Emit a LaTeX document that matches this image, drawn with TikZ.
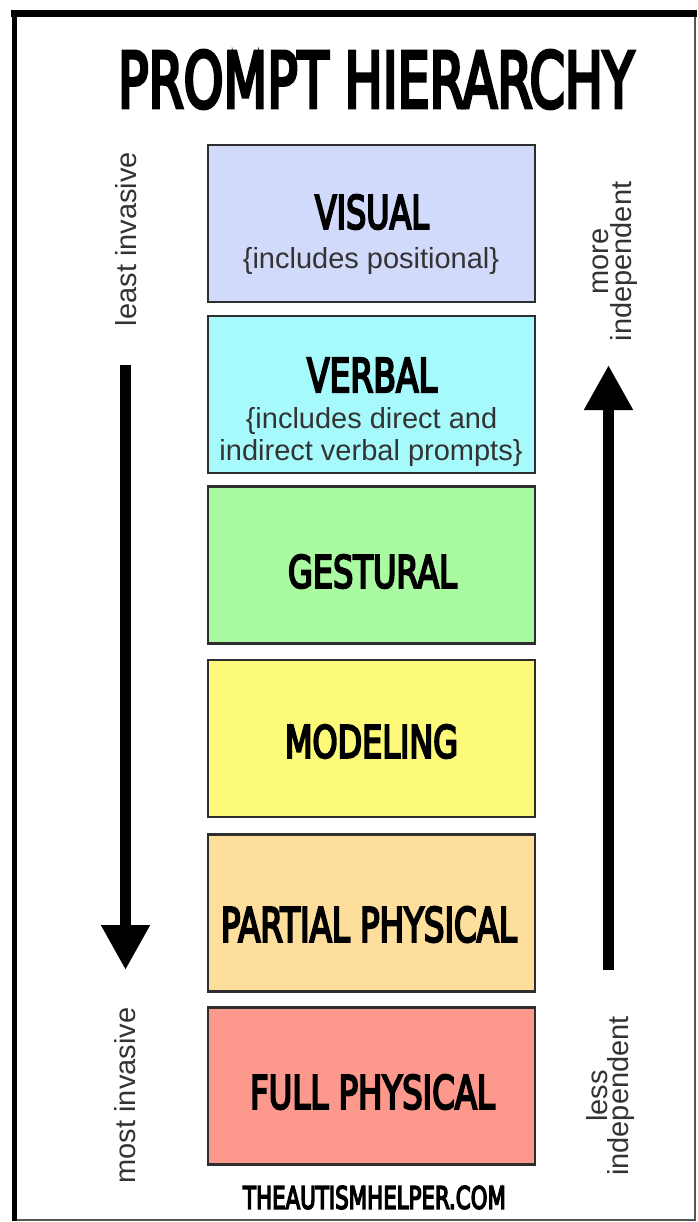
\documentclass[tikz,border=0pt]{standalone}
\usepackage{fontspec}
\setmainfont{Liberation Sans}
\newfontfamily\hfont[FakeBold=5]{DejaVuSansCondensed.ttf}
\usetikzlibrary{arrows.meta}
\definecolor{cVis}{HTML}{D2DAFB}
\definecolor{cVerb}{HTML}{A6FAFC}
\definecolor{cGest}{HTML}{AAFAA2}
\definecolor{cMod}{HTML}{FCFA78}
\definecolor{cPart}{HTML}{FDDE9B}
\definecolor{cFull}{HTML}{FC988C}
\definecolor{boxline}{HTML}{2E2E2E}
\definecolor{txt}{HTML}{333333}
\definecolor{framegray}{HTML}{555555}
\newcommand\biglbl[3]{\resizebox{#1pt}{#2pt}{\hfont #3}}
\begin{document}
\begin{tikzpicture}[x=1pt,y=-1pt,
  pbox/.style={draw=boxline, line width=2.5pt, minimum width=327pt, minimum height=157pt, inner sep=0pt},
  big/.style={inner sep=0pt, text=black},
  small/.style={inner sep=0pt, text=txt, font=\fontsize{29}{32}\selectfont, anchor=base},
  side/.style={inner sep=0pt, text=txt, font=\fontsize{29}{32}\selectfont, rotate=90},
  bigarrow/.style={line width=11pt, -{Triangle[width=46pt,length=45pt]}}]
\useasboundingbox (0,0) rectangle (697,1222);
\fill[white] (0,0) rectangle (697,1222);
% frame
\draw[framegray, line width=2pt] (694.5,14) -- (694.5,1219.5) -- (14,1219.5);
\draw[black, line width=7pt] (11,13.5) -- (697,13.5);
\draw[black, line width=5pt] (14.5,10) -- (14.5,1221);
% title
\node[big] (title) at (376,79.5) {\biglbl{516}{57}{PROMPT HIERARCHY}};
% boxes
\node[pbox, fill=cVis]  (visual)   at (371.5,223.5) {};
\node[pbox, fill=cVerb] (verbal)   at (371.5,394.5) {};
\node[pbox, fill=cGest] (gestural) at (371.5,565) {};
\node[pbox, fill=cMod]  (modeling) at (371.5,738.5) {};
\node[pbox, fill=cPart] (partial)  at (371.5,913) {};
\node[pbox, fill=cFull] (full)     at (371.5,1086) {};
% labels
\node[big] (tvis)  at (372,212)     {\biglbl{114}{34}{VISUAL}};
\node[small] (svis) at (371,269) {\{includes positional\}};
\node[big] (tverb) at (372,375)     {\biglbl{130}{34}{VERBAL}};
\node[small] (sverb1) at (371.5,428) {\{includes direct and};
\node[small] (sverb2) at (371,460) {indirect verbal prompts\}};
\node[big] (tgest) at (372.5,571.5) {\biglbl{169}{33}{GESTURAL}};
\node[big] (tmod)  at (371.5,741.5) {\biglbl{173}{33}{MODELING}};
\node[big] (tpart) at (369,924.5)   {\biglbl{296}{35}{PARTIAL PHYSICAL}};
\node[big] (tfull) at (372.5,1092)  {\biglbl{245}{34}{FULL PHYSICAL}};
\node[big] (site)  at (374.5,1197.5) {\biglbl{263}{23}{THEAUTISMHELPER.COM}};
% side texts
\node[side] (least) at (126,239) {least invasive};
\node[side] (most) at (125,1095.5) {most invasive};
\node[side, anchor=base] (more) at (608,261.5) {more};
\node[side, anchor=base] (indepA) at (631,261.5) {independent};
\node[side, anchor=base] (less) at (607,1096) {less};
\node[side, anchor=base] (indepB) at (628,1096) {independent};
% arrows
\coordinate (dA) at (125.5,365);
\coordinate (dB) at (125.5,970);
\coordinate (uA) at (608.5,970);
\coordinate (uB) at (608.5,365);
\draw[bigarrow] (dA) -- (dB);
\draw[bigarrow] (uA) -- (uB);
\end{tikzpicture}
\end{document}
